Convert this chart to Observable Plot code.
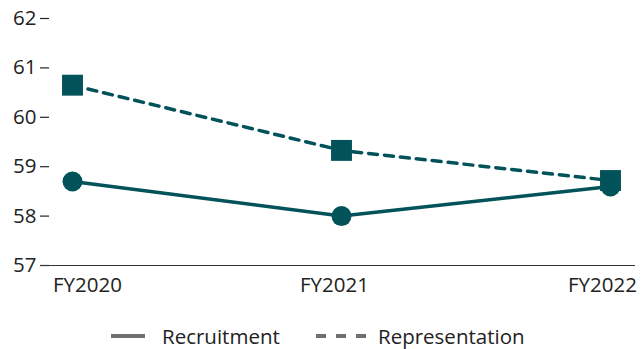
<!DOCTYPE html>
<html>
<head>
<meta charset="utf-8">
<script src="https://cdn.jsdelivr.net/npm/d3@7"></script>
<script src="https://cdn.jsdelivr.net/npm/@observablehq/plot@0.6"></script>
<style>
  html, body { margin: 0; padding: 0; background: #fff; overflow: hidden; }
  body { width: 641px; height: 349px; font-family: "Open Sans", "Noto Sans", sans-serif; }
  #chart svg text { font-size: 20.5px; fill: #222; }
  #legend { position: relative; height: 49px; font-size: 20.5px; color: #222; }
  .item { position: absolute; top: 24px; height: 24px; display: flex; align-items: center; }
  .item span { position: absolute; white-space: nowrap; line-height: 22px; }
</style>
</head>
<body>
<div id="chart"></div>
<div id="legend"></div>
<script>
// Fiscal years and the two percentage series
const years = ["FY2020", "FY2021", "FY2022"];
const recruitment = [58.7, 58.0, 58.6];
const representation = [60.65, 59.33, 58.72];
const yTicks = [57, 58, 59, 60, 61, 62];

// horizontal nudge of each year label relative to its point
const labelShift = [15, -7, -8];

const teal = "#02525a";
const rows = (values, series) => years.map((year, i) => ({year, value: values[i], series}));
const rec = rows(recruitment, "Recruitment");
const rep = rows(representation, "Representation");

const chart = Plot.plot({
  width: 641,
  height: 300,
  marginTop: 18,
  marginBottom: 35,
  marginLeft: 40,
  marginRight: 6,
  style: {fontFamily: "'Open Sans', 'Noto Sans', sans-serif", color: "#222"},
  x: {type: "point", domain: years, insetLeft: 32, insetRight: 25, padding: 0},
  y: {domain: [57, 62]},
  marks: [
    Plot.axisY({ticks: yTicks, tickFormat: "d", tickSize: 9, dx: 9, tickPadding: 4, label: null, stroke: "#222", strokeWidth: 1.2}),
    ...years.map((year, i) => Plot.axisX({ticks: [year], tickSize: 0, tickPadding: 12, label: null, dx: labelShift[i]})),
    Plot.ruleY([57], {stroke: "#333", strokeWidth: 1.2}),
    Plot.line(rec, {x: "year", y: "value", stroke: teal, strokeWidth: 3.5}),
    Plot.dot(rec, {x: "year", y: "value", r: 10, fill: teal, symbol: "circle"}),
    Plot.line(rep, {x: "year", y: "value", stroke: teal, strokeWidth: 3.5, strokeDasharray: "9,7"}),
    Plot.dot(rep, {x: "year", y: "value", r: 11.8, fill: teal, symbol: "square"})
  ]
});
document.getElementById("chart").appendChild(chart);

// Legend beneath the chart: swatch start, swatch width, label start
const legend = d3.select("#legend");
const entries = [
  {label: "Recruitment", dash: null, x: 111, w: 34, tx: 162},
  {label: "Representation", dash: "10,10", x: 316, w: 50, tx: 378}
];
for (const e of entries) {
  const item = legend.append("div").attr("class", "item").style("left", e.x + "px");
  const sw = item.append("svg").attr("width", e.w).attr("height", 10);
  sw.append("line").attr("x1", 0).attr("x2", e.w).attr("y1", 5).attr("y2", 5)
    .attr("stroke", "#6e6f72").attr("stroke-width", 4)
    .attr("stroke-dasharray", e.dash);
  item.append("span").style("left", (e.tx - e.x) + "px").text(e.label);
}
</script>
</body>
</html>
